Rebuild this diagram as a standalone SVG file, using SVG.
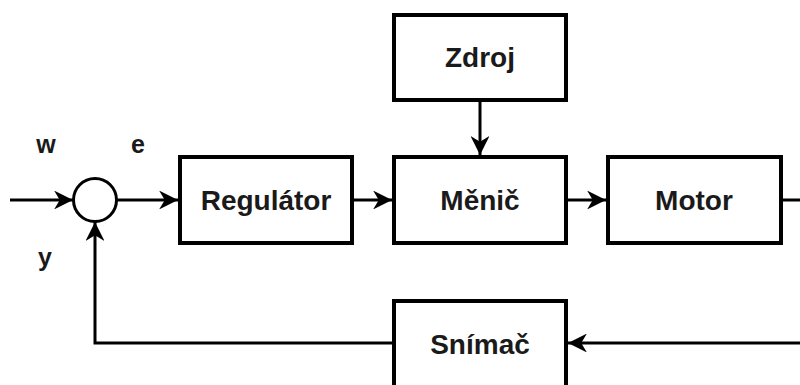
<svg xmlns="http://www.w3.org/2000/svg" width="800" height="385" viewBox="0 0 800 385">
<defs>
<style>
.box{fill:#fff;stroke:#000;stroke-width:4}
.ln{fill:none;stroke:#000;stroke-width:3}
.t{font-family:"Liberation Sans",Arial,sans-serif;font-weight:bold;font-size:28px;fill:#1a1a1a;text-anchor:middle;dominant-baseline:central}
.l{font-family:"Liberation Sans",Arial,sans-serif;font-weight:bold;font-size:25px;fill:#1a1a1a;text-anchor:middle}
</style>
<marker id="ar" viewBox="0 0 10 10" refX="10" refY="5" markerWidth="6.3" markerHeight="6.3" orient="auto" markerUnits="strokeWidth">
<path d="M0,0 L10,5 L0,10 L3,5 Z" fill="#000"/>
</marker>
</defs>
<rect width="800" height="385" fill="#fff"/>
<g id="connectors">
<line class="ln" x1="10" y1="200" x2="73" y2="200" marker-end="url(#ar)"/>
<line class="ln" x1="117" y1="200" x2="178" y2="200" marker-end="url(#ar)"/>
<line class="ln" x1="354" y1="200" x2="392" y2="200" marker-end="url(#ar)"/>
<line class="ln" x1="568" y1="200" x2="606" y2="200" marker-end="url(#ar)"/>
<line class="ln" x1="480" y1="101" x2="480" y2="155" marker-end="url(#ar)"/>
<line class="ln" x1="783" y1="200" x2="802" y2="200"/>
<line class="ln" x1="802" y1="343" x2="568" y2="343" marker-end="url(#ar)"/>
<polyline class="ln" points="392,343 95,343 95,222" marker-end="url(#ar)"/>
</g>
<g id="sum"><circle cx="95" cy="200" r="21.5" fill="#fff" stroke="#000" stroke-width="3"/></g>
<g id="regulator"><rect class="box" x="180" y="157" width="172" height="86"/><text class="t" x="266" y="200">Regulátor</text></g>
<g id="zdroj"><rect class="box" x="394" y="15" width="172" height="85"/><text class="t" x="480" y="57">Zdroj</text></g>
<g id="menic"><rect class="box" x="394" y="157" width="172" height="86"/><text class="t" x="480" y="200">Měnič</text></g>
<g id="motor"><rect class="box" x="608" y="157" width="173" height="86"/><text class="t" x="694" y="200">Motor</text></g>
<g id="snimac"><rect class="box" x="394" y="301" width="172" height="86"/><text class="t" x="480" y="344">Snímač</text></g>
<g id="labels">
<text class="l" x="46" y="153">w</text>
<text class="l" x="138" y="153">e</text>
<text class="l" x="45" y="266">y</text>
</g>
</svg>
